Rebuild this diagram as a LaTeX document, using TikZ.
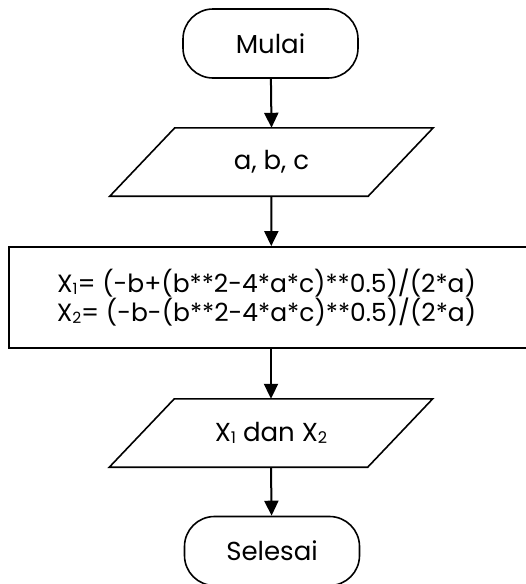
\documentclass[tikz,border=0pt]{standalone}
\usepackage{fontspec}
\setmainfont{Poppins}
\usetikzlibrary{arrows.meta}
\newcommand{\lowsub}[1]{\raisebox{-0.15ex}{\fontsize{0.62em}{1em}\selectfont #1}}
\begin{document}
\begin{tikzpicture}[x=1pt,y=-1pt,
  term/.style={draw, line width=1.6pt, rounded corners=30pt, minimum width=175pt, minimum height=69pt, inner sep=0pt, font=\fontsize{26}{30}\selectfont},
  iobox/.style={minimum width=323pt, minimum height=68pt, inner sep=0pt, font=\fontsize{26}{30}\selectfont},
  procbox/.style={draw, line width=1.8pt, minimum width=524pt, minimum height=101pt, inner sep=0pt, align=center, font=\fontsize{25}{29}\selectfont},
  outline/.style={line width=1.6pt, line join=miter},
  flow/.style={line width=2pt, -{Triangle[length=15pt,width=14pt]}}
]
\useasboundingbox (0,0) rectangle (526,584);
\node[term] (start) at (270.5,43.5) {Mulai};
\node[iobox] (in) at (271.5,162) {a, b, c};
\draw[outline] (in.south west) -- ([xshift=-65pt]in.south east) -- (in.north east) -- ([xshift=65pt]in.north west) -- cycle;
\node[procbox] (calc) at (271,297.5) {X\lowsub{1}= (-b+(b**2-4*a*c)**0.5)/(2*a)\hspace*{9pt}\\X\lowsub{2}= (-b-(b**2-4*a*c)**0.5)/(2*a)\hspace*{9pt}};
\node[iobox] (out) at (271,433) {X\lowsub{1} dan X\lowsub{2}};
\draw[outline] (out.south west) -- ([xshift=-65pt]out.south east) -- (out.north east) -- ([xshift=65pt]out.north west) -- cycle;
\node[term] (end) at (272,551) {Selesai};
\draw[flow] (start) -- (in.north);
\draw[flow] (in.south) -- (calc);
\draw[flow] (calc) -- (out.north);
\draw[flow] (out.south) -- (end);
\end{tikzpicture}
\end{document}
